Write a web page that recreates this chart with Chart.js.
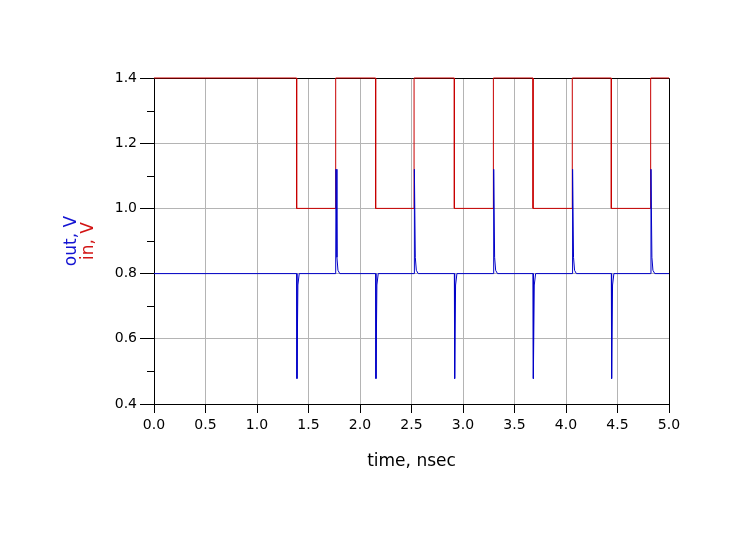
<!DOCTYPE html>
<html>
<head>
<meta charset="utf-8">
<script src="https://cdn.jsdelivr.net/npm/chart.js@4.4.0/dist/chart.umd.min.js"></script>
<style>
  html, body { margin: 0; padding: 0; background: #fff; }
  #wrap { width: 748px; height: 537px; }
</style>
</head>
<body>
<div id="wrap"><canvas id="chart" width="748" height="537"></canvas></div>
<script>
// input square wave (time in ns, volts)
const inTime = [0, 1.385, 1.385, 1.764, 1.764, 2.152, 2.152, 2.525, 2.525, 2.916, 2.916,
                3.295, 3.295, 3.680, 3.680, 4.061, 4.061, 4.440, 4.440, 4.822, 4.822, 5.0];
const inVolt = [1.4, 1.4, 1.0, 1.0, 1.4, 1.4, 1.0, 1.0, 1.4, 1.4, 1.0,
                1.0, 1.4, 1.4, 1.0, 1.0, 1.4, 1.4, 1.0, 1.0, 1.4, 1.4];

// output: flat 0.8 V with glitches at each input edge
const outTime = [0,
  1.385, 1.388, 1.397, 1.410,
  1.764, 1.767, 1.776, 1.786, 1.804,
  2.152, 2.155, 2.164, 2.177,
  2.525, 2.528, 2.537, 2.547, 2.565,
  2.916, 2.919, 2.928, 2.941,
  3.295, 3.298, 3.307, 3.317, 3.335,
  3.680, 3.683, 3.692, 3.705,
  4.061, 4.064, 4.073, 4.083, 4.101,
  4.440, 4.443, 4.452, 4.465,
  4.822, 4.825, 4.834, 4.844, 4.862,
  5.0];
const outVolt = [0.8,
  0.8, 0.478, 0.765, 0.8,
  0.8, 1.12, 0.85, 0.81, 0.8,
  0.8, 0.478, 0.765, 0.8,
  0.8, 1.12, 0.85, 0.81, 0.8,
  0.8, 0.478, 0.765, 0.8,
  0.8, 1.12, 0.85, 0.81, 0.8,
  0.8, 0.478, 0.765, 0.8,
  0.8, 1.12, 0.85, 0.81, 0.8,
  0.8, 0.478, 0.765, 0.8,
  0.8, 1.12, 0.85, 0.81, 0.8,
  0.8];

const xTicks = [0, 0.5, 1, 1.5, 2, 2.5, 3, 3.5, 4, 4.5, 5];
const yTicks = [0.4, 0.6, 0.8, 1.0, 1.2, 1.4];
const yMinor = [0.5, 0.7, 0.9, 1.1, 1.3];

const FONT = "'DejaVu Sans', sans-serif";

const pts = (xs, ys) => xs.map((x, i) => ({ x: x, y: ys[i] }));

// frame, minor ticks and axis titles
const decor = {
  id: 'decor',
  beforeDatasetsDraw(chart) {
    const { ctx, chartArea: a } = chart;
    ctx.save();
    ctx.strokeStyle = '#000';
    ctx.lineWidth = 1;
    ctx.beginPath();
    ctx.moveTo(a.left, a.top + 0.5);
    ctx.lineTo(a.right + 0.5, a.top + 0.5);
    ctx.lineTo(a.right + 0.5, a.bottom);
    ctx.stroke();
    ctx.restore();
  },
  afterDraw(chart) {
    const { ctx, chartArea: a, scales } = chart;
    const ys = scales.y;
    ctx.save();
    ctx.strokeStyle = '#000';
    ctx.lineWidth = 1;
    ctx.beginPath();
    yMinor.forEach(v => {
      const py = Math.round(ys.getPixelForValue(v)) + 0.5;
      ctx.moveTo(a.left - 7, py);
      ctx.lineTo(a.left, py);
    });
    ctx.stroke();

    // x title
    ctx.fillStyle = '#000';
    ctx.font = '17px ' + FONT;
    ctx.textAlign = 'center';
    ctx.textBaseline = 'middle';
    ctx.fillText('time, nsec', (a.left + a.right) / 2, 462);

    // y titles, rotated
    const cy = (a.top + a.bottom) / 2;
    ctx.translate(0, cy);
    ctx.rotate(-Math.PI / 2);
    ctx.fillStyle = '#1414d2';
    ctx.fillText('out, V', 0, 72);
    ctx.fillStyle = '#d21414';
    ctx.fillText('in, V', 0, 89);
    ctx.restore();
  }
};

new Chart(document.getElementById('chart').getContext('2d'), {
  type: 'scatter',
  data: {
    datasets: [
      { label: 'out', data: pts(outTime, outVolt), showLine: true, borderColor: '#0000c8',
        borderWidth: 1, pointRadius: 0, tension: 0, clip: false },
      { label: 'in', data: pts(inTime, inVolt), showLine: true, borderColor: '#c80000',
        borderWidth: 1, pointRadius: 0, tension: 0, clip: false }
    ]
  },
  options: {
    responsive: false,
    animation: false,
    devicePixelRatio: 1,
    layout: { padding: { top: 78, right: 79, left: 0, bottom: 0 } },
    plugins: { legend: { display: false }, tooltip: { enabled: false } },
    scales: {
      x: {
        type: 'linear', min: 0, max: 5,
        afterFit: s => { s.height = 133; },
        afterBuildTicks: s => { s.ticks = xTicks.map(v => ({ value: v })); },
        ticks: { color: '#000', font: { family: FONT, size: 14 }, padding: 4,
                 maxRotation: 0, callback: v => v.toFixed(1) },
        grid: { color: '#b4b4b4', tickColor: '#000', tickLength: 9, lineWidth: 1 },
        border: { color: '#000', width: 1 }
      },
      y: {
        type: 'linear', min: 0.4, max: 1.4,
        afterFit: s => { s.width = 154; },
        afterBuildTicks: s => { s.ticks = yTicks.map(v => ({ value: v })); },
        ticks: { color: '#000', font: { family: FONT, size: 14 }, padding: 3,
                 callback: v => v.toFixed(1) },
        grid: { color: '#b4b4b4', tickColor: '#000', tickLength: 14, lineWidth: 1 },
        border: { color: '#000', width: 1 }
      }
    }
  },
  plugins: [decor]
});
</script>
</body>
</html>
